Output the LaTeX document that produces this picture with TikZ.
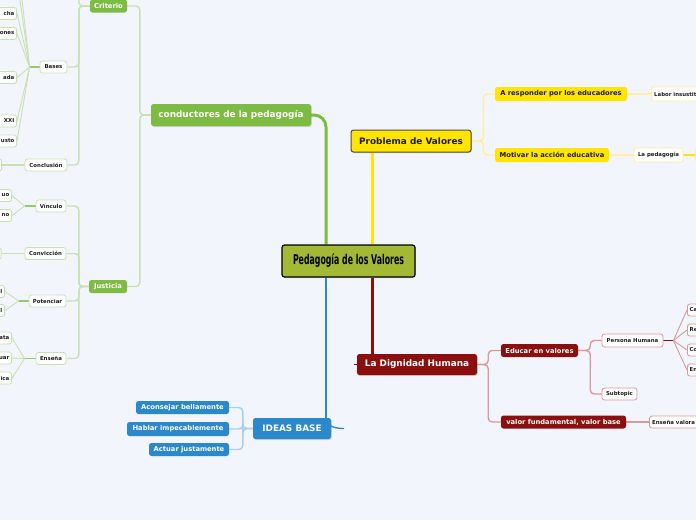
\documentclass[tikz,border=0pt]{standalone}
\usepackage{fontspec}
\setmainfont{DejaVu Sans}
\usepackage{graphicx}
\usetikzlibrary{shadows}
\definecolor{bgc}{HTML}{F2F5FC}
\definecolor{cgreen}{HTML}{7DBB42}
\definecolor{cgreenl}{HTML}{C8E1B1}
\definecolor{cyellow}{HTML}{FFE500}
\definecolor{cyellowl}{HTML}{FFEF9A}
\definecolor{cred}{HTML}{8B0F0F}
\definecolor{credl}{HTML}{D99A9A}
\definecolor{cblue}{HTML}{2B88CB}
\definecolor{cbluel}{HTML}{A9CFEE}
\definecolor{ccent}{HTML}{A3B834}
\definecolor{ctext}{HTML}{1E1E1E}
\pgfdeclarelayer{bg}
\pgfsetlayers{bg,main}
\tikzset{
  boxbase/.style={rounded corners=2.5pt, inner sep=0pt, align=center},
  shd/.style={drop shadow={shadow xshift=0.8pt,shadow yshift=-1pt,opacity=0.3}},
  centbox/.style={boxbase, shd, fill=ccent, draw=black, line width=1.2pt, text=black,
     font=\fontsize{13.5}{14}\selectfont\bfseries},
  mainbr/.style={boxbase, shd, text=white, font=\fontsize{8.9}{10}\selectfont\bfseries},
  subbr/.style={boxbase, text=white, font=\fontsize{6.75}{8}\selectfont\bfseries},
  leaf/.style={boxbase, fill=white, draw=#1, line width=0.8pt, text=ctext,
     inner xsep=2pt, minimum height=12, font=\fontsize{5.4}{6}\selectfont\bfseries},
  leaftxt/.style={inner sep=0pt, text=ctext, font=\fontsize{5.4}{6}\selectfont\bfseries},
  leafL/.style={leaf=#1, anchor=east, minimum width=34},
  leafR/.style={leaf=#1, anchor=west, minimum width=34},
  thickc/.style={draw=#1, line width=3pt},
  lightc/.style={draw=#1, line width=1.4pt, rounded corners=4pt},
  fanc/.style={draw=#1, line width=0.9pt},
}
\begin{document}
\begin{tikzpicture}[x=1pt,y=-1pt]
\begin{pgfonlayer}{bg}
\fill[bgc] (0,0) rectangle (696,520);
\end{pgfonlayer}
\useasboundingbox (0,0) rectangle (696,520);
\clip (0,0) rectangle (696,520);

% central
\node[centbox, minimum width=133, minimum height=32] (cent) at (348.5,261)
  {\resizebox{111pt}{\height}{Pedagogía de los Valores}};

% yellow branch
\node[mainbr, fill=cyellow, draw=ctext!80, line width=1pt, text=ctext, minimum width=120, minimum height=22] (prob) at (411,141) {Problema de Valores};
\node[subbr, fill=cyellow, text=ctext, minimum width=132, minimum height=14] (resp) at (561,94) {A responder por los educadores};
\node[subbr, fill=cyellow, text=ctext, minimum width=114, minimum height=14] (motiv) at (552,155) {Motivar la acción educativa};
\node[leafR=cyellowl, minimum height=14, minimum width=64] (labor) at (651,94) {};
\node[leaftxt, anchor=west] (labort) at ([xshift=3]labor.west) {Labor insustit};
\node[leaf=cyellowl, minimum width=49, minimum height=14] (lapeda) at (658.5,155) {La pedagogía};
\node[leafR=cyellowl, minimum height=14] (lapedc) at (695,155) {};

% green branch
\node[mainbr, fill=cgreen, minimum width=160, minimum height=22] (cond) at (231,115) {conductores de la pedagogía};
\node[subbr, fill=cgreen, minimum width=37, minimum height=13] (crit) at (108.5,6) {Criterio};
\node[subbr, fill=cgreen, minimum width=38, minimum height=13] (just) at (108,286.5) {Justicia};
\node[leaf=cgreenl, minimum width=27] (bases) at (53.5,67) {Bases};
\node[leaf=cgreenl, minimum width=42] (concl) at (46,165) {Conclusión};
\foreach \nm/\yy/\tx in {b1/13.5/cha, b2/33.5/ones, b3/77.5/ada, b4/121/XXI, b5/141/usto}{
  \node[leafL=cgreenl] (\nm) at (17,\yy) {};
  \node[leaftxt, anchor=east] at ([xshift=-2.5]\nm.east) {\tx};
}
\coordinate (b6) at (17,-20);
\coordinate (b7) at (17,-45);
\coordinate (critup) at (68,-30);
\node[leafL=cgreenl] (c1) at (2,165) {};
\node[leaf=cgreenl, minimum width=30] (vinc) at (51,206) {Vínculo};
\node[leaf=cgreenl, minimum width=41] (conv) at (45.5,253.5) {Convicción};
\node[leaf=cgreenl, minimum width=37] (pot) at (47.5,301) {Potenciar};
\node[leaf=cgreenl, minimum width=30] (ens) at (51,358.5) {Enseña};
\foreach \nm/\xx/\yy/\tx in {v1/12/195.5/uo, v2/12/215.5/no, p1/5/291.5/l, p2/5/310.5/l, e1/12/338/ata, e2/12/358/uar, e3/12/378/ica}{
  \node[leafL=cgreenl] (\nm) at (\xx,\yy) {};
  \node[leaftxt, anchor=east] at ([xshift=-2.5]\nm.east) {\tx};
}
\node[leafL=cgreenl] (cv1) at (1.5,253.5) {};

% blue branch
\node[mainbr, fill=cblue, minimum width=78, minimum height=21] (ideas) at (292,428.5) {IDEAS BASE};
\node[subbr, fill=cblue, minimum width=93, minimum height=13] (acons) at (182.5,407.5) {Aconsejar bellamente};
\node[subbr, fill=cblue, minimum width=102, minimum height=14] (habl) at (178,429) {Hablar impecablemente};
\node[subbr, fill=cblue, minimum width=80, minimum height=13] (actu) at (189,449.5) {Actuar justamente};
\coordinate (btail) at (344,428.5);

% red branch
\node[mainbr, fill=cred, minimum width=120, minimum height=21] (dig) at (417,364.5) {La Dignidad Humana};
\node[subbr, fill=cred, minimum width=77, minimum height=13] (educ) at (539.5,350.5) {Educar en valores};
\node[subbr, fill=cred, minimum width=125, minimum height=13] (valor) at (563.5,422) {valor fundamental, valor base};
\node[leaf=credl, minimum width=61, minimum height=13] (pers) at (632.5,340.5) {Persona Humana};
\node[leaf=credl, minimum width=35] (subt) at (619.5,394) {Subtopic};
\foreach \nm/\yy/\tx in {r1/310/Ca, r2/330/Re, r3/350/Co, r4/370/En}{
  \node[leafR=credl] (\nm) at (687,\yy) {};
  \node[leaftxt, anchor=west] at ([xshift=2.5]\nm.west) {\tx};
}
\node[leafR=credl, minimum width=64] (ensval) at (649,422) {};
\node[leaftxt, anchor=west] (ensvalt) at ([xshift=3]ensval.west) {Enseña valora};

% connectors
\begin{pgfonlayer}{bg}
% yellow
\draw[thickc=cyellow] ([xshift=23.5]cent.north) -- ([xshift=23.5]cent.north |- prob.south);
\draw[lightc=cyellowl] (prob.east) -- ++(12,0) |- (resp.west);
\draw[lightc=cyellowl] (prob.east) -- ++(12,0) |- (motiv.west);
\draw[lightc=cyellowl] (resp.east) -- (labor.west);
\draw[lightc=cyellowl] (motiv.east) -- (lapeda.west);
\draw[thickc=cyellow, line width=2pt] (lapeda.east) -- (lapedc.west);
% green
\draw[thickc=cgreen, rounded corners=12pt] ([xshift=-22.5]cent.north) |- (cond.east);
\draw[lightc=cgreenl] (cond.west) -- ++(-11,0) |- (crit.east);
\draw[lightc=cgreenl] (cond.west) -- ++(-11,0) |- (just.east);
\draw[lightc=cgreenl] (crit.west) -- ++(-11,0) |- (critup);
\draw[lightc=cgreenl] (crit.west) -- ++(-11,0) |- (bases.east);
\draw[lightc=cgreenl] (crit.west) -- ++(-11,0) |- (concl.east);
\draw[lightc=cgreenl] (just.west) -- ++(-10,0) |- (vinc.east);
\draw[lightc=cgreenl] (just.west) -- ++(-10,0) |- (conv.east);
\draw[lightc=cgreenl] (just.west) -- ++(-10,0) |- (pot.east);
\draw[lightc=cgreenl] (just.west) -- ++(-10,0) |- (ens.east);
\draw[thickc=cgreen!80, line width=1.6pt] (bases.west) -- ++(-10,0) coordinate (bf);
\foreach \n in {b1,b2,b3,b4,b5} \draw[fanc=cgreenl] (bf) -- (\n.east);
\draw[fanc=cgreenl] (bf) -- (b6);
\draw[fanc=cgreenl] (bf) -- (b7);
\draw[lightc=cgreenl] (concl.west) -- (c1.east);
\draw[thickc=cgreen!80, line width=1.6pt] (vinc.west) -- ++(-11,0) coordinate (vf);
\draw[fanc=cgreenl] (vf) -- (v1.east);
\draw[fanc=cgreenl] (vf) -- (v2.east);
\draw[lightc=cgreenl] (conv.west) -- (cv1.east);
\draw[thickc=cgreen!80, line width=1.6pt] (pot.west) -- ++(-10,0) coordinate (pf);
\draw[fanc=cgreenl] (pf) -- (p1.east);
\draw[fanc=cgreenl] (pf) -- (p2.east);
\draw[thickc=cgreen!80, line width=1.6pt] (ens.west) -- ++(-11,0) coordinate (ef);
\draw[fanc=cgreenl] (ef) -- (e1.east);
\draw[fanc=cgreenl] (ef) -- (e2.east);
\draw[fanc=cgreenl] (ef) -- (e3.east);
% blue
\draw[thickc=cblue, line width=2.5pt] ([xshift=-22.5]cent.south) -- ([xshift=-22.5]cent.south |- ideas.north);
\draw[draw=cblue, line width=1.3pt] ([xshift=-22.5]cent.south |- ideas.north) .. controls +(0,9) and +(-8,0) .. (btail);
\draw[lightc=cbluel] (ideas.west) -- ++(-10,0) |- (acons.east);
\draw[lightc=cbluel] (ideas.west) -- ++(-10,0) |- (habl.east);
\draw[lightc=cbluel] (ideas.west) -- ++(-10,0) |- (actu.east);
% red
\draw[thickc=cred] ([xshift=23.5]cent.south) -- ([xshift=23.5]cent.south |- dig.north);
\draw[thickc=cred, line width=1.5pt] (dig.west) -- ++(-3,0);
\draw[lightc=credl] (dig.east) -- ++(11,0) |- (educ.west);
\draw[lightc=credl] (dig.east) -- ++(11,0) |- (valor.west);
\draw[lightc=credl] (educ.east) -- ++(12,0) |- (pers.west);
\draw[lightc=credl] (educ.east) -- ++(12,0) |- (subt.west);
\draw[thickc=cred, line width=1.6pt] (pers.east) -- ++(10,0) coordinate (rf);
\foreach \n in {r1,r2,r3,r4} \draw[fanc=credl] (rf) -- (\n.west);
\draw[lightc=credl] (valor.east) -- (ensval.west);
\end{pgfonlayer}
\end{tikzpicture}
\end{document}
